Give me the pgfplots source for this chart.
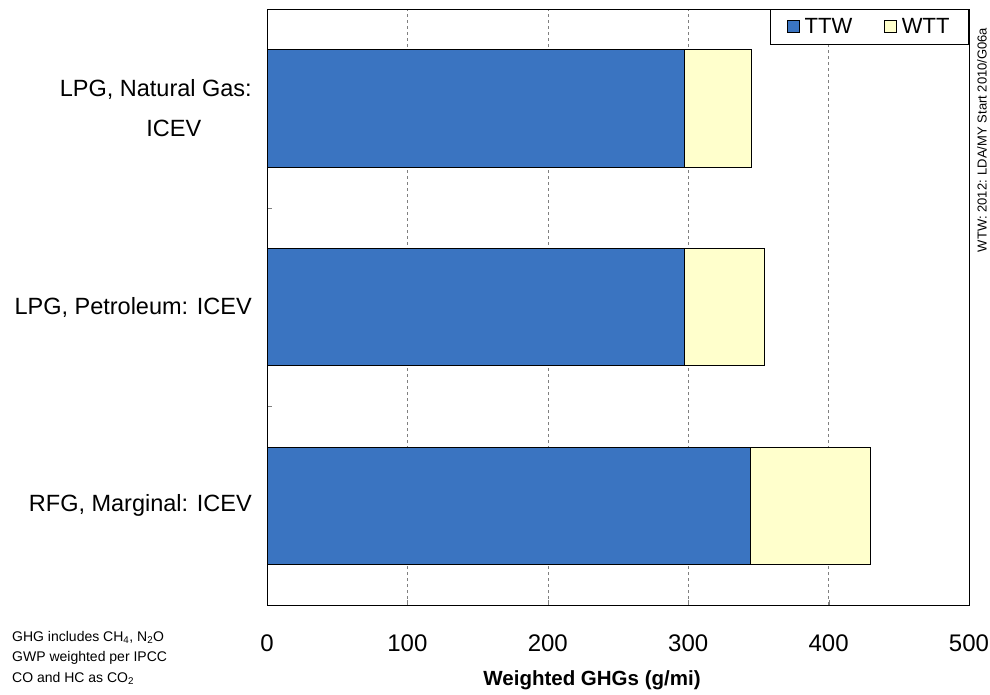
\documentclass[border=0pt]{standalone}
\usepackage{fontspec}
\setmainfont{Liberation Sans}
\usepackage{pgfplots}
\pgfplotsset{compat=1.18}
\definecolor{ttw}{RGB}{58,116,193}
\definecolor{wtt}{RGB}{255,255,204}
\begin{document}
\begin{tikzpicture}[x=1pt,y=1pt]
\path[use as bounding box] (0,0) rectangle (990,694);
\begin{axis}[
  at={(267pt,89pt)}, anchor=south west,
  scale only axis, width=702pt, height=596pt,
  xbar stacked, bar width=0.59,
  xmin=0, xmax=500, ymin=-0.5, ymax=2.5,
  xtick={0,100,...,500},
  xtick pos=bottom, ytick pos=left,
  tick align=inside,
  major tick length=5pt, minor tick length=7pt,
  xmajorgrids,
  major grid style={gray, line width=0.6pt, dash pattern=on 3pt off 3pt},
  ytick={0.5,1.5}, yticklabels={},
  extra y ticks={0,1,2},
  extra y tick labels={{RFG, Marginal: ICEV},{LPG, Petroleum: ICEV},{LPG, Natural Gas:\\\hspace*{36pt}ICEV}},
  extra y tick style={major tick length=0pt},
  yticklabel style={font=\fontsize{23.5}{40}\selectfont, align=center, inner sep=0pt, xshift=-15pt},
  xticklabel style={font=\fontsize{24}{28}\selectfont, inner sep=0pt, yshift=-30pt},
  /pgf/number format/assume math mode=true,
  axis line style={black, line width=0.8pt},
  legend style={at={(rel axis cs:1,1)}, anchor=north east, legend columns=2,
    draw=black, line width=0.8pt, fill=white, font=\fontsize{22}{24}\selectfont,
    inner xsep=17pt, inner ysep=7pt,
    /tikz/every even column/.append style={column sep=30pt},
    /tikz/every odd column/.append style={column sep=3pt}},
]
\addplot[fill=ttw, draw=black, line width=0.6pt,
  legend image code/.code={\draw[fill=ttw,draw=black,line width=0.6pt] (0pt,-6pt) rectangle (12pt,6pt);}]
  coordinates {(344,0) (297,1) (297,2)};
\addplot[fill=wtt, draw=black, line width=0.6pt,
  legend image code/.code={\draw[fill=wtt,draw=black,line width=0.6pt] (0pt,-6pt) rectangle (12pt,6pt);}]
  coordinates {(86,0) (57,1) (48,2)};
\legend{TTW,WTT}
\end{axis}
\node[font=\bfseries\fontsize{20.5}{24}\selectfont, anchor=base] at (592,9) {Weighted GHGs (g/mi)};
\node[font=\fontsize{14}{20.5}\selectfont, anchor=north west, align=left, inner sep=0pt] at (12,63)
  {GHG includes CH\textsubscript{4}, N\textsubscript{2}O\\GWP weighted per IPCC\\CO and HC as CO\textsubscript{2}};
\node[font=\fontsize{13}{15}\selectfont, rotate=90, inner sep=0pt] at (982,554) {WTW: 2012: LDA/MY Start 2010/G06a};
\end{tikzpicture}
\end{document}
